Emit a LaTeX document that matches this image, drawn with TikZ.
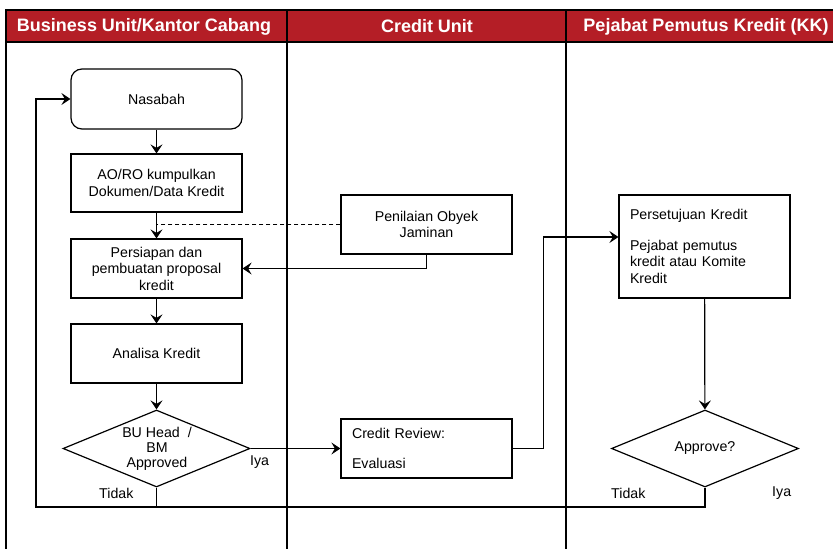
\documentclass[tikz,border=0pt]{standalone}
\usepackage{fontspec}
\setmainfont{Liberation Sans}
\usetikzlibrary{shapes.geometric,arrows.meta}
\definecolor{hdred}{RGB}{180,30,38}
\begin{document}
\begin{tikzpicture}[x=1pt,y=-1pt,
  lane/.style={line width=2pt, black},
  hdr/.style={text=white, font=\fontsize{18}{20}\selectfont\bfseries, inner sep=0pt},
  box/.style={draw, line width=1.2pt, fill=white, minimum width=171pt, minimum height=59pt, inner sep=2pt, align=center, font=\fontsize{14.2}{16.5}\selectfont},
  lbox/.style={box, align=left, text width=149pt},
  dec/.style={draw, line width=1.2pt, fill=white, diamond, minimum width=187pt, minimum height=77pt, inner sep=0pt},
  txt/.style={font=\fontsize{14.2}{15}\selectfont, inner sep=0pt, align=center},
  conn/.style={line width=1.2pt},
  arr/.style={conn, -{Stealth[length=9pt,width=12pt,inset=3.5pt]}},
  dashln/.style={conn, dash pattern=on 4pt off 3pt}
]
\useasboundingbox (0,0) rectangle (833,549);
% header and lanes
\fill[hdred] (6,10) rectangle (840,42);
\draw[lane] (6,549) -- (6,10) -- (840,10);
\draw[lane] (6,42) -- (840,42);
\draw[lane] (287,10) -- (287,549);
\draw[lane] (566,10) -- (566,549);
\node[hdr] (h1) at (144,26.5) {Business Unit/Kantor Cabang};
\node[hdr] (h2) at (427,26.5) {Credit Unit};
\node[hdr] (h3) at (706,26.5) {Pejabat Pemutus Kredit (KK)};
% nodes
\node[box, rounded corners=11pt, minimum height=60pt] (nas) at (156.5,99) {Nasabah};
\node[box, minimum height=58pt] (ao) at (156.5,183) {AO/RO kumpulkan\\Dokumen/Data Kredit};
\node[box] (pp) at (156.5,268.5) {Persiapan dan\\pembuatan proposal\\kredit};
\node[box] (an) at (156.5,353.5) {Analisa Kredit};
\node[dec] (d1) at (156.5,448.5) {};
\node[txt] (d1t) at (157,448.5) {BU Head~~/\\BM\\Approved};
\node[box] (pn) at (426.5,224.5) {Penilaian Obyek\\Jaminan};
\node[lbox] (cr) at (426.5,448.5) {Credit Review:\\[14pt]Evaluasi};
\node[lbox, minimum height=103pt] (ps) at (704.5,246.5) {Persetujuan Kredit\\[14pt]Pejabat pemutus\\kredit atau Komite\\Kredit};
\node[dec] (d2) at (705,448.5) {};
\node[txt] (d2t) at (705,448.5) {Approve?};
\coordinate (tl) at (36,507);
% connectors
\draw[arr] (nas) -- (ao);
\draw[arr] (ao) -- (pp);
\draw[arr] (pp) -- (an);
\draw[arr] (an) -- (d1);
\draw[dashln] (pn.west) -- (pn.west -| ao.south);
\draw[arr] (pn.south) |- (pp.east);
\draw[arr] (d1.east) -- (cr.west);
\draw[arr] (cr.east) -- ++(31,0) |- ([yshift=9.5pt]ps.west);
\draw[arr] (ps) -- (d2);
\draw[arr] (d1.south) |- (tl) |- (nas.west);
\draw[conn] (d2.south) |- (d1.south |- tl);
% labels
\node[txt, anchor=west] (l1) at (250,462) {Iya};
\node[txt, anchor=west] (l2) at (99,493) {Tidak};
\node[txt, anchor=west] (l3) at (611,493) {Tidak};
\node[txt, anchor=west] (l4) at (772,493) {Iya};
\end{tikzpicture}
\end{document}
